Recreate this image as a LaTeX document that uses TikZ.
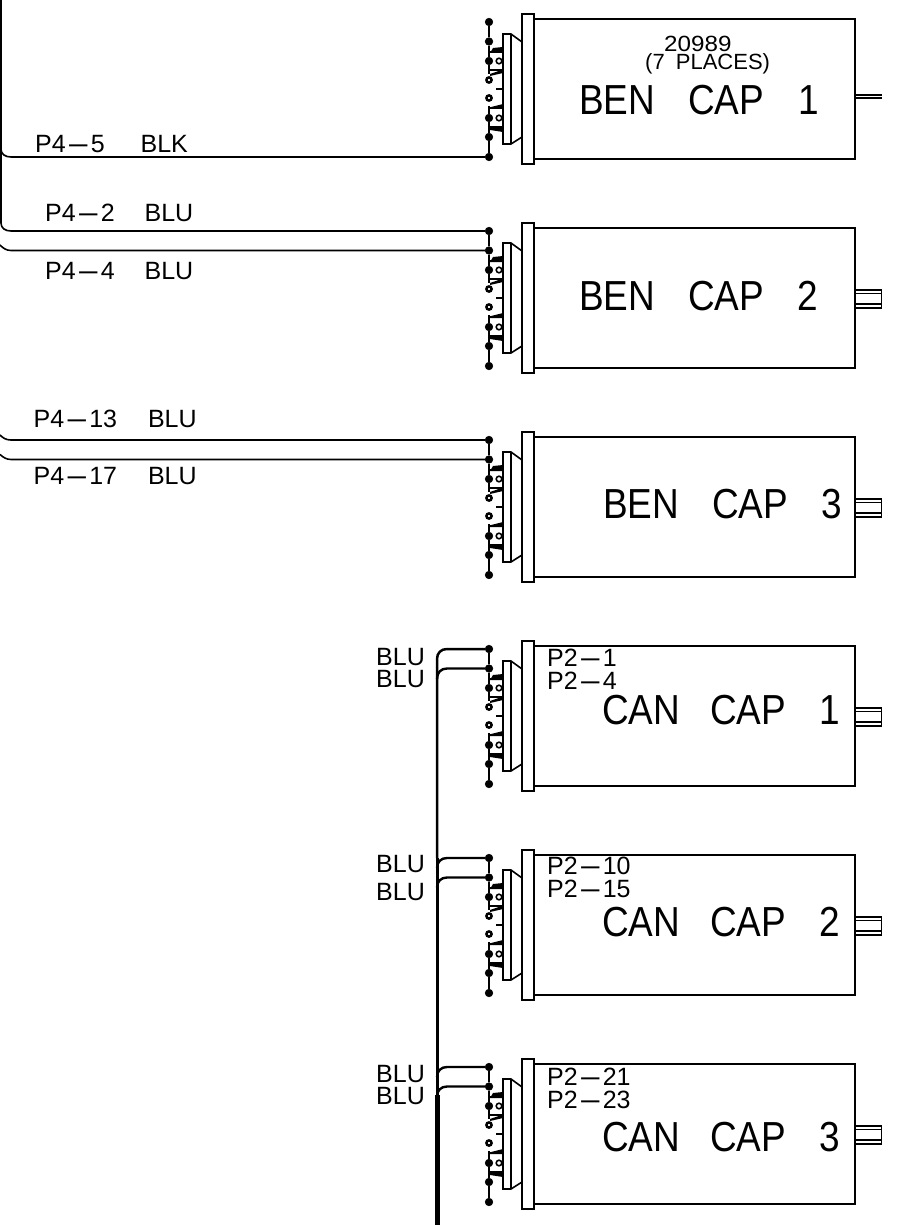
\documentclass[tikz,border=0pt]{standalone}
\usepackage{fontspec}
\setmainfont{Liberation Sans}
\newfontfamily\bigf[FakeStretch=0.88]{Liberation Sans}
\newfontfamily\midf{Liberation Sans}
\newfontfamily\smlf[FakeStretch=1.1]{Liberation Sans}
\newcommand{\dsh}{\scalebox{3}[1]{-}}
\tikzset{
  x=1pt,y=-1pt,
  ln/.style={line width=1.6pt,black},
  thinln/.style={line width=1.1pt,black},
  br/.style={line width=2.4pt,black},
  dotf/.style={circle,fill=black,draw=black,line width=0.6pt,inner sep=0pt,minimum size=7.6pt},
  doth/.style={circle,fill=white,draw=black,line width=2.5pt,inner sep=0pt,minimum size=5.2pt},
  big/.style={anchor=base west,inner sep=0pt,font=\bigf\fontsize{42}{42}\selectfont},
  mid/.style={anchor=base west,inner sep=0pt,font=\midf\fontsize{25}{25}\selectfont},
  sml/.style={anchor=base west,inner sep=0pt,font=\smlf\fontsize{22}{22}\selectfont},
  smlb/.style={anchor=base west,inner sep=0pt,font=\midf\fontsize{22}{22}\selectfont},
  capmod/.pic={
    \draw[line width=1.9pt] (534,19) rectangle (855,159);
    \draw[ln,fill=white] (522,14) rectangle (534,164);
    \draw[ln,fill=white] (503,34) -- (511,34) -- (522,42) -- (522,137) -- (511,144) -- (503,144) -- cycle;
    \draw[thinln] (511,34) -- (511,144);
    % terminals
    \draw[ln] (490,52) -- (503,52) -- (503,70) -- (490,70);
    \fill (490,53) -- (493,48) -- (503,47) -- (503,53) -- cycle;
    \fill (490,74) -- (503,69.5) -- (503,73) -- (490,76) -- cycle;
    \draw[ln] (499,61) circle[radius=2.8pt];
    \draw[thinln] (496,89) -- (503,89);
    \draw[ln] (490,108) -- (503,108) -- (503,127) -- (490,127);
    \fill (490,109) -- (491,107) -- (503,104) -- (503,109) -- cycle;
    \fill (490,126) -- (503,127) -- (503,132) -- (490,130) -- cycle;
    \draw[ln] (499,118) circle[radius=2.8pt];
    \node[dotf] (-d1) at (489,22) {};
    \node[dotf] (-d2) at (489,41.5) {};
    \node[dotf] (-d3) at (489,61) {};
    \node[doth] (-d4) at (489,80) {};
    \node[doth] (-d5) at (489,98) {};
    \node[dotf] (-d6) at (489,118) {};
    \node[dotf] (-d7) at (489,137) {};
    \node[dotf] (-d8) at (489,157) {};
    \draw[ln] (-d1) -- (-d2) -- (-d3) -- (489,74);
    \draw[ln] (489,106) -- (-d6) -- (-d7) -- (-d8);
  }
}
\begin{document}
\begin{tikzpicture}
\useasboundingbox (0,0) rectangle (914,1225);
\pic (ben1) at (0,0) {capmod};
\pic (ben2) at (0,209) {capmod};
\pic (ben3) at (0,418) {capmod};
\pic (can1) at (0,627) {capmod};
\pic (can2) at (0,836) {capmod};
\pic (can3) at (0,1045) {capmod};
% stubs
\draw[thinln] (855,95) -- (882,95) (855,98) -- (882,98);
\foreach \o in {209,418,627,836,1045}{
  \draw[line width=1.4pt] (855,81+\o) rectangle (881.5,99+\o);
  \draw[thinln] (855,84.5+\o) -- (881,84.5+\o) (855,95+\o) -- (881,95+\o);
}
% BEN wires
\coordinate (a0) at (1,0);
\coordinate (a2) at (0,245);
\coordinate (a3) at (0,435);
\coordinate (a4) at (0,454.5);
\draw[ln] (a0) -- (1,149) .. controls (1,154) and (5,157) .. (11,157) -- (ben1-d8);
\draw[ln] (a0) -- (1,223) .. controls (1,228) and (5,231) .. (11,231) -- (ben2-d1);
\draw[ln] (a2) .. controls (3,248) and (6,250.5) .. (11,250.5) -- (ben2-d2);
\draw[ln] (a3) .. controls (3,438) and (6,440) .. (11,440) -- (ben3-d1);
\draw[ln] (a4) .. controls (3,457) and (6,459.5) .. (11,459.5) -- (ben3-d2);
% CAN wires
\coordinate (b0) at (437,1225);
\draw[line width=2.5pt] (437,858) -- (437,659) .. controls (437,653) and (441,649) .. (447,649) -- (can1-d1);
\draw[br] (437,679) .. controls (437,672.5) and (441,668.5) .. (447,668.5) -- (can1-d2);
\draw[line width=3pt] (437,1097) -- (437,858);
\draw[br] (437,868) .. controls (437,862) and (441,858) .. (447,858) -- (can2-d1);
\draw[br] (437,887.5) .. controls (437,881.5) and (441,877.5) .. (447,877.5) -- (can2-d2);
\draw[br] (437,1077) .. controls (437,1071) and (441,1067) .. (447,1067) -- (can3-d1);
\draw[br] (437,1096.5) .. controls (437,1090.5) and (441,1086.5) .. (447,1086.5) -- (can3-d2);
\draw[line width=5pt] (437,1095) -- (b0);
% texts
\node[sml] (t0) at (664,52) {20989};
\node[smlb] (t00) at (645,70) {(7\hspace{5pt} PLACES)};
\node[big] (t1) at (579,115) {BEN\hspace{33pt}CAP\hspace{34pt}1};
\node[big] (t2) at (579,310) {BEN\hspace{33pt}CAP\hspace{33pt}2};
\node[big] (t3) at (603,518) {BEN\hspace{33pt}CAP\hspace{33pt}3};
\node[big] (t4) at (602,724) {CAN\hspace{30pt}CAP\hspace{33pt}1};
\node[big] (t5) at (602,936) {CAN\hspace{30pt}CAP\hspace{33pt}2};
\node[big] (t6) at (602,1151) {CAN\hspace{30pt}CAP\hspace{33pt}3};
\node[mid] (w1) at (35,153) {P4\dsh5\hspace{36pt}BLK};
\node[mid] (w2) at (45,221) {P4\dsh2\hspace{30pt}BLU};
\node[mid] (w3) at (45,279) {P4\dsh4\hspace{30pt}BLU};
\node[mid] (w4) at (33.5,427) {P4\dsh13\hspace{31pt}BLU};
\node[mid] (w5) at (33.5,484) {P4\dsh17\hspace{31pt}BLU};
\node[mid] (c1) at (376,665) {BLU};
\node[mid] (c2) at (376,687) {BLU};
\node[mid] (c3) at (376,872) {BLU};
\node[mid] (c4) at (376,900) {BLU};
\node[mid] (c5) at (376,1082) {BLU};
\node[mid] (c6) at (376,1104) {BLU};
\node[mid] (p1) at (547,666) {P2\dsh1};
\node[mid] (p2) at (547,689) {P2\dsh4};
\node[mid] (p3) at (547,874) {P2\dsh10};
\node[mid] (p4) at (547,897) {P2\dsh15};
\node[mid] (p5) at (547,1085) {P2\dsh21};
\node[mid] (p6) at (547,1108) {P2\dsh23};
\end{tikzpicture}
\end{document}
